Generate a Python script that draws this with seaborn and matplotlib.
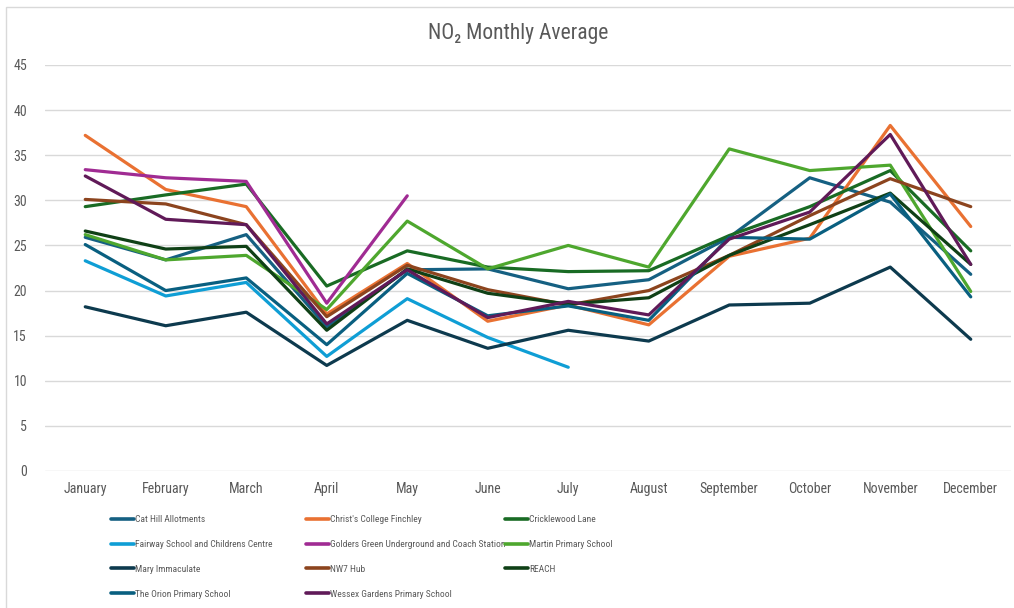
import pandas as pd
import numpy as np
import matplotlib.pyplot as plt
import matplotlib.patches as mpatches
import seaborn as sns

# monthly NO2 averages
months = ['January', 'February', 'March', 'April', 'May', 'June',
          'July', 'August', 'September', 'October', 'November', 'December']

cat_hill = [25.9, 23.4, 26.2, 16.0, 22.3, 22.4, 20.2, 21.2, 25.9, 32.5, 29.8, 21.8]
christs = [37.2, 31.2, 29.3, 17.4, 23.0, 16.6, 18.4, 16.2, 23.8, 25.8, 38.3, 27.1]
cricklewood = [29.3, 30.6, 31.8, 20.5, 24.4, 22.6, 22.1, 22.2, 26.1, 29.3, 33.3, 24.4]
fairway = [23.3, 19.4, 20.9, 12.7, 19.1, 14.8, 11.5, np.nan, np.nan, np.nan, np.nan, np.nan]
golders = [33.4, 32.5, 32.1, 18.6, 30.5, np.nan, np.nan, np.nan, np.nan, np.nan, np.nan, np.nan]
martin = [26.2, 23.4, 23.9, 17.9, 27.7, 22.4, 25.0, 22.6, 35.7, 33.3, 33.9, 19.9]
mary = [18.2, 16.1, 17.6, 11.7, 16.7, 13.6, 15.6, 14.4, 18.4, 18.6, 22.6, 14.6]
nw7 = [30.1, 29.6, 27.3, 17.1, 22.8, 20.1, 18.4, 20.0, 23.9, 28.3, 32.4, 29.3]
reach = [26.6, 24.6, 24.9, 15.6, 22.4, 19.7, 18.5, 19.2, 23.9, 27.3, 30.8, 22.9]
orion = [25.1, 20.0, 21.4, 14.0, 21.9, 17.2, 18.3, 16.7, 25.9, 25.7, 30.7, 19.3]
wessex = [32.7, 27.9, 27.3, 16.3, 22.3, 17.0, 18.8, 17.3, 25.7, 28.7, 37.3, 22.9]

sites = ['Cat Hill Allotments', "Christ's College Finchley", 'Cricklewood Lane',
         'Fairway School and Childrens Centre', 'Golders Green Underground and Coach Station',
         'Martin Primary School', 'Mary Immaculate', 'NW7 Hub', 'REACH',
         'The Orion Primary School', 'Wessex Gardens Primary School']
series = [cat_hill, christs, cricklewood, fairway, golders, martin,
          mary, nw7, reach, orion, wessex]
colors = ['#156082', '#E97132', '#196B24', '#0F9ED5', '#A02B93', '#4EA72E',
          '#0D3A4E', '#8C441E', '#0F4016', '#095F80', '#601A58']

rows = []
for site, vals in zip(sites, series):
    for m, v in zip(months, vals):
        rows.append({'month': m, 'site': site, 'no2': v})
df = pd.DataFrame(rows)

sns.set_style('white')
plt.rcParams['font.family'] = ['Roboto Condensed', 'Roboto', 'DejaVu Sans']

fig = plt.figure(figsize=(10.14, 6.08), dpi=100)
ax = fig.add_axes([45 / 1014, 137 / 608, 966 / 1014, 406 / 608])

sns.lineplot(data=df, x='month', y='no2', hue='site', hue_order=sites,
             palette=colors, linewidth=2.3, sort=False, ax=ax)

ax.set_ylim(0, 45)
ax.set_yticks(range(0, 46, 5))
ax.set_xlim(-0.5, 11.5)
ax.grid(axis='y', color='#D9D9D9', linewidth=1)
ax.set_axisbelow(True)
for s in ax.spines.values():
    s.set_visible(False)
ax.tick_params(axis='both', length=0, colors='#595959', labelsize=10)
ax.tick_params(axis='x', pad=8)
ax.tick_params(axis='y', pad=13)
ax.set_xlabel('')
ax.set_ylabel('')
fig.text(518 / 1014, 1 - 33 / 608, 'NO\u2082 Monthly Average', fontsize=15.5,
         color='#595959', ha='center', va='center')

# three legend columns, filled row by row like the original
handles, labels = ax.get_legend_handles_labels()
ax.get_legend().remove()
col_x = [111, 306, 505]
for c, x in enumerate(col_x):
    idx = list(range(c, len(sites), 3))
    leg = fig.legend([handles[i] for i in idx], [labels[i] for i in idx],
                     loc='upper left', bbox_to_anchor=(x / 1014, 1 - 515 / 608),
                     frameon=False, fontsize=6.8, labelcolor='#595959',
                     handlelength=2.4, handletextpad=0.15, labelspacing=1.68,
                     borderaxespad=0, borderpad=0)
    for ln in leg.get_lines():
        ln.set_linewidth(2.6)

fig.patches.append(mpatches.Rectangle((6 / 1014, -0.05), 1.1, 1 - 7 / 608 + 0.05,
                                      transform=fig.transFigure, fill=False,
                                      edgecolor='#D9D9D9', linewidth=1))

fig.savefig('out.png', dpi=100)
